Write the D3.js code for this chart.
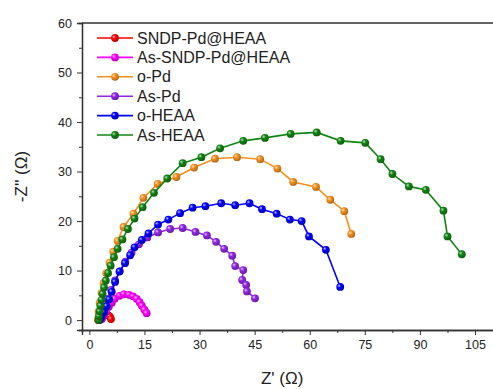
<!DOCTYPE html>
<html><head><meta charset="utf-8">
<script src="https://cdn.jsdelivr.net/npm/d3@7"></script>
<style>body{margin:0;background:#fff}svg{display:block}text{font-family:Arial,"Liberation Sans",sans-serif;fill:#222}</style>
</head><body><svg id="c" width="493" height="389"></svg>
<script>
const seriesNames = ["SNDP-Pd@HEAA","As-SNDP-Pd@HEAA","o-Pd","As-Pd","o-HEAA","As-HEAA"];
const seriesColors = ["#ff0000","#ff00ff","#f7901e","#9126e8","#0000ff","#118511"];
const redData = [[2.4,0],[2.8,0.4],[3.3,0.8],[3.9,1.0],[4.5,1.1],[5.1,1.0],[5.6,0.7],[5.9,0.2]];
const magentaData = [[3.4,0.2],[3.9,0.9],[4.5,1.7],[5.3,2.7],[6.1,3.5],[6.9,4.3],[8.2,4.9],[9.4,5.2],[10.8,5.1],[11.9,4.8],[12.9,4.3],[13.7,3.6],[14.3,2.9],[15.0,2.1],[15.6,1.4]];
const orangeData = [[2.3,0.2],[2.5,1.7],[2.8,3.5],[3.3,5.5],[3.9,7.5],[4.6,9.5],[5.5,11.6],[6.5,13.8],[7.7,16.0],[9.3,18.8],[12.0,21.5],[14.7,24.7],[18.6,27.5],[23.7,28.9],[28.5,30.8],[34.2,32.6],[40.2,32.9],[46.5,32.5],[51.2,30.6],[55.5,27.9],[61.7,26.9],[65.6,24.3],[69.4,22.0],[71.3,17.4]];
const purpleData = [[2.7,0.2],[3.3,1.3],[4.0,2.7],[4.9,4.3],[5.9,6.1],[7.0,8.0],[8.3,9.9],[9.8,11.8],[11.5,13.6],[13.5,15.3],[15.8,16.7],[18.7,17.7],[22.0,18.4],[25.4,18.6],[28.9,17.8],[32.0,17.1],[34.5,15.8],[36.7,14.4],[38.9,13.0],[39.7,10.9],[41.9,10.1],[41.6,8.1],[42.7,7.1],[42.9,5.8],[45.1,4.4]];
const blueData = [[2.8,0],[3.3,0.6],[4.0,1.6],[4.7,2.8],[5.4,4.2],[6.1,5.7],[7.0,7.7],[8.2,9.8],[9.7,11.5],[11.1,13.1],[12.3,14.7],[14.3,16.2],[16.1,17.5],[18.7,19.3],[21.5,20.3],[24.7,21.6],[28.1,22.7],[31.6,23.0],[35.9,23.6],[39.7,23.2],[43.6,23.6],[47.0,22.4],[51.0,21.5],[54.6,20.3],[57.8,20.0],[59.8,16.9],[64.4,14.2],[68.3,6.7]];
const greenData = [[2.5,0],[2.6,0.8],[2.8,1.8],[3.0,2.9],[3.3,4.1],[3.6,5.3],[4.0,6.6],[4.5,8.0],[5.1,9.5],[5.8,11.0],[6.7,12.7],[7.7,14.4],[9.0,16.3],[10.5,18.4],[12.3,20.5],[14.5,22.8],[17.6,25.7],[21.2,28.6],[25.4,31.7],[30.5,32.9],[35.6,34.7],[41.9,36.2],[47.8,36.8],[54.8,37.6],[61.9,37.9],[68.4,36.2],[75.1,35.8],[79.3,32.5],[82.5,29.5],[87.0,27.0],[91.6,26.3],[96.4,22.1],[97.5,16.9],[101.4,13.3]];
const allData = [redData,magentaData,orangeData,purpleData,blueData,greenData];
const xTicks = [0,15,30,45,60,75,90,105];
const yTicks = [0,10,20,30,40,50,60];
const xTitle = "Z' (Ω)";
const yTitle = "-Z'' (Ω)";

const svg = d3.select("#c");
const x = d3.scaleLinear().domain([-2,110]).range([82,493.4]);
const y = d3.scaleLinear().domain([-2,60]).range([330,23]);

const defs = svg.append("defs");
seriesColors.forEach((c,i)=>{
  const g = defs.append("radialGradient").attr("id","g"+i).attr("cx","35%").attr("cy","35%").attr("r","70%");
  g.append("stop").attr("offset","0%").attr("stop-color",d3.interpolateRgb(c,"#fff")(0.75));
  g.append("stop").attr("offset","35%").attr("stop-color",c);
  g.append("stop").attr("offset","100%").attr("stop-color",d3.interpolateRgb(c,"#000")(0.3));
});

// axes
svg.append("g").attr("transform","translate(0,330)")
  .call(d3.axisBottom(x).tickValues(xTicks).tickSize(5).tickPadding(5).tickFormat(d3.format("d")));
svg.append("g").attr("transform","translate(0,330)")
  .call(d3.axisBottom(x).tickValues(d3.range(7.5,110,15)).tickSize(3).tickFormat(""));
svg.append("g").attr("transform","translate(82,0)")
  .call(d3.axisLeft(y).tickValues(yTicks).tickSize(5).tickPadding(5).tickFormat(d3.format("d")));
svg.append("g").attr("transform","translate(82,0)")
  .call(d3.axisLeft(y).tickValues(d3.range(5,60,10)).tickSize(3).tickFormat(""));
svg.selectAll(".domain").attr("stroke","#333").attr("stroke-width",1.3);
svg.selectAll(".tick line").attr("stroke","#333").attr("stroke-width",1);
svg.selectAll(".tick text").style("font-size","12.5px").attr("fill","#222");
svg.append("line").attr("x1",82).attr("x2",493).attr("y1",23).attr("y2",23).attr("stroke","#333").attr("stroke-width",1.3);

svg.append("text").attr("x",x(52.5)).attr("y",384).attr("text-anchor","middle").style("font-size","17px").text(xTitle);
svg.append("text").attr("transform","translate(27,"+y(29)+") rotate(-90)").attr("text-anchor","middle").style("font-size","17px").text(yTitle);

const line = d3.line().x(d=>x(d[0])).y(d=>y(d[1]));
allData.forEach((data,i)=>{
  const g = svg.append("g");
  g.append("path").datum(data).attr("d",line).attr("fill","none").attr("stroke",seriesColors[i]).attr("stroke-width",1.6);
  g.selectAll("circle").data(data).join("circle").attr("cx",d=>x(d[0])).attr("cy",d=>y(d[1])).attr("r",3.9).attr("fill","url(#g"+i+")");
});

// legend
const lg = svg.append("g");
seriesNames.forEach((n,i)=>{
  const yy = 38 + i*19.4;
  lg.append("line").attr("x1",97).attr("x2",133).attr("y1",yy).attr("y2",yy).attr("stroke",seriesColors[i]).attr("stroke-width",1.6);
  lg.append("circle").attr("cx",115).attr("cy",yy).attr("r",3.9).attr("fill","url(#g"+i+")");
  lg.append("text").attr("x",137).attr("y",yy+5.5).style("font-size","16px").text(n);
});
</script></body></html>
